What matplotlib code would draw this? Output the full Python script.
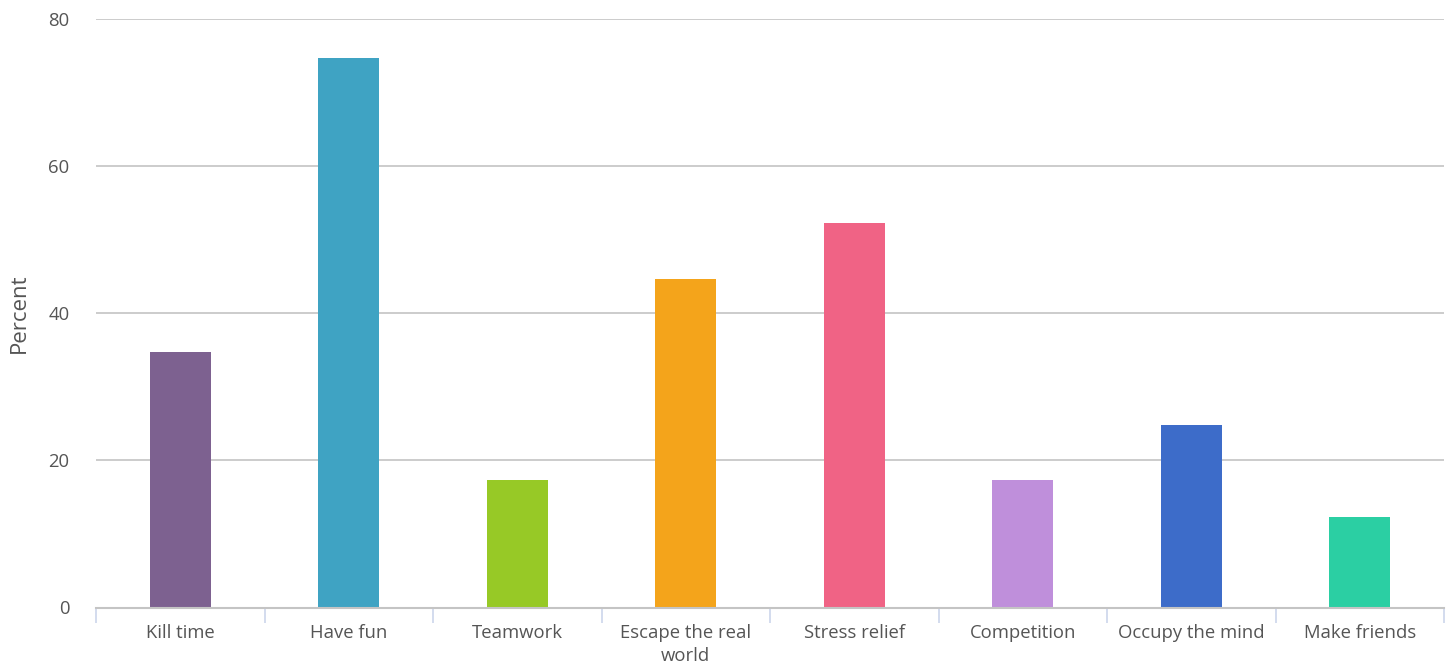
import matplotlib
matplotlib.use("Agg")
import matplotlib.pyplot as plt
import numpy as np

categories = ["Kill time", "Have fun", "Teamwork", "Escape the real\nworld",
              "Stress relief", "Competition", "Occupy the mind", "Make friends"]
values = [34.7, 74.7, 17.3, 44.7, 52.3, 17.3, 24.8, 12.3]
colors = ["#7d6190", "#3fa3c3", "#97c926", "#f4a41b",
          "#f06385", "#bf8fdb", "#3d6cc9", "#2bcfa3"]
yticks = [0, 20, 40, 60, 80]

plt.rcParams['font.family'] = ['Open Sans', 'DejaVu Sans']

fig = plt.figure(figsize=(14.5, 6.67), dpi=100)
W, H = 1450, 667
ax = fig.add_axes([96 / W, (H - 607.5) / H, (1444 - 96) / W, (607.5 - 19) / H])

x = np.arange(len(categories))
ax.bar(x, values, width=0.362, color=colors, zorder=3)

ax.set_xlim(-0.5, len(categories) - 0.5)
ax.set_ylim(0, 80)
ax.set_yticks(yticks)
ax.yaxis.grid(True, color="#c4c4c4", linewidth=1.2, zorder=0)
ax.tick_params(axis="y", length=0, pad=19, labelsize=13.3, labelcolor="#555555")

for s in ["top", "right", "left"]:
    ax.spines[s].set_visible(False)
ax.spines["bottom"].set_color("#c4c4c4")
ax.spines["bottom"].set_linewidth(1.5)
ax.spines["bottom"].set_zorder(4)

# category boundary ticks (major) and labels at centers (minor)
ax.set_xticks(np.arange(-0.5, len(categories), 1.0))
ax.set_xticklabels([])
ax.tick_params(axis="x", which="major", length=11, width=1.2, color="#ccd6eb", direction="out")
ax.set_xticks(x, minor=True)
ax.set_xticklabels(categories, minor=True, fontsize=13.3, color="#555555", linespacing=1.35)
ax.tick_params(axis="x", which="minor", length=0, pad=12)

ax.set_ylabel("Percent", fontsize=16, color="#555555")
ax.yaxis.set_label_coords(-66 / 1348, 0.5)

fig.savefig("out.png", dpi=100, facecolor="white")
